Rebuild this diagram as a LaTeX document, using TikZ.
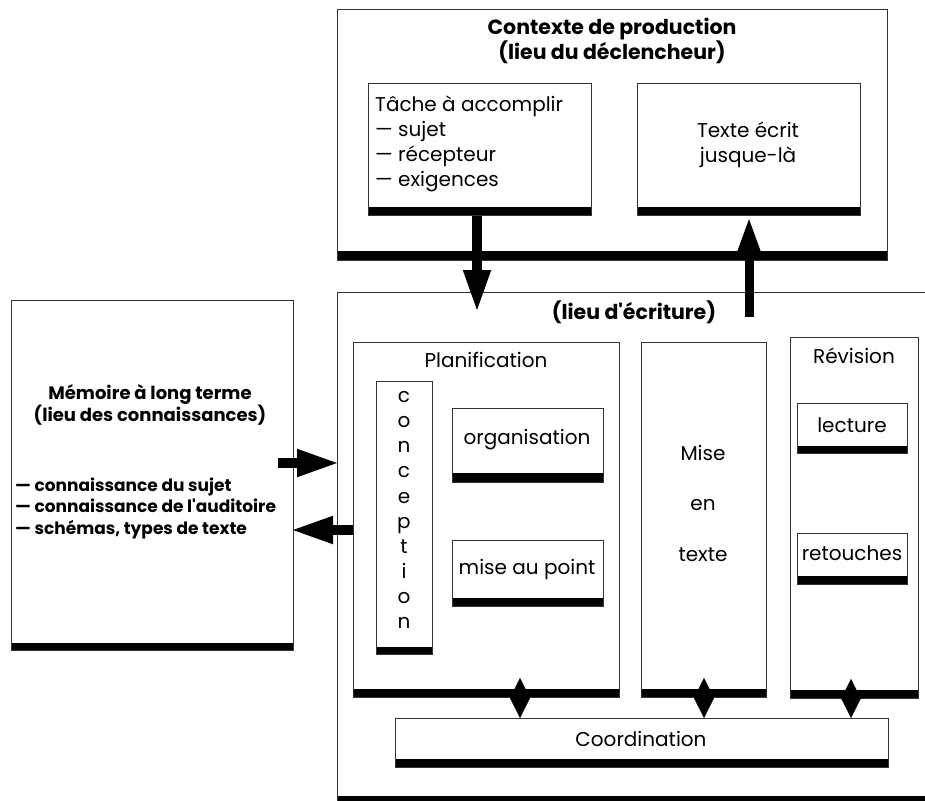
\documentclass[tikz,border=0pt]{standalone}
\usepackage{fontspec}
\newfontfamily\pop{Poppins}
\usetikzlibrary{arrows.meta,calc}
\begin{document}
\begin{tikzpicture}[x=1pt,y=-1pt,
  font=\pop,
  box/.style={draw=black!80, line width=1pt, fill=white, inner sep=0pt, anchor=north west},
  barbox/.style={box, path picture={\fill[black] (path picture bounding box.south west) rectangle ([yshift=#1]path picture bounding box.south east);}},
  barbox/.default=9pt,
  txt/.style={inner sep=0pt, align=center},
  reg/.style={font=\pop\fontsize{20}{25}\selectfont},
  bld/.style={font=\pop\bfseries\fontsize{20.5}{23}\selectfont},
  bldm/.style={font=\pop\bfseries\fontsize{18}{22}\selectfont},
  bigarrow/.style={line width=10pt, -{Triangle[length=43pt,width=25pt]}},
  smallarrow/.style={line width=9pt, -{Triangle[length=35pt,width=20pt]}},
  dbl/.style={line width=0.1pt, {Triangle[length=20pt,width=20pt]}-{Triangle[length=20pt,width=20pt]}}
]
\useasboundingbox (0,0) rectangle (925,800);
\clip (0,0) rectangle (925,800);

% Contexte de production
\node[barbox=10pt, minimum width=550pt, minimum height=251pt] (ctx) at (337,9) {};
\node[txt, bld] (ctxt) at (612,41) {Contexte de production\\(lieu du déclencheur)};
\node[barbox, minimum width=223pt, minimum height=132pt] (tache) at (368,83) {};
\node[txt, reg, align=left, anchor=west] (tachet) at (375,144) {Tâche à accomplir\\— sujet\\— récepteur\\— exigences};
\node[barbox, minimum width=223pt, minimum height=132pt] (texte) at (637,83) {};
\node[txt, reg] (textet) at (748,145) {Texte écrit\\jusque-là};

% Lieu d'ecriture
\node[barbox, minimum width=593pt, minimum height=512pt] (lieu) at (337,292) {};
\node[txt, bld] (lieut) at (634,312) {(lieu d'écriture)};

\node[barbox, minimum width=266pt, minimum height=355pt] (plan) at (353,342) {};
\node[txt, reg] (plant) at (486,360) {Planification};
\node[barbox=8pt, minimum width=56pt, minimum height=273pt] (conc) at (376,381) {};
\node[txt, font=\pop\fontsize{20}{25.1}\selectfont] (conct) at (404,510) {c\\o\\n\\c\\e\\p\\t\\i\\o\\n};
\node[barbox=10pt, minimum width=151pt, minimum height=74pt] (org) at (452,408) {};
\node[txt, reg] (orgt) at (527,440) {organisation};
\node[barbox, minimum width=151pt, minimum height=66pt] (map) at (452,540) {};
\node[txt, reg] (mapt) at (527,569) {mise au point};

\node[barbox, minimum width=125pt, minimum height=355pt] (mise) at (641,342) {};
\node[txt, font=\pop\fontsize{20}{50.5}\selectfont] (miset) at (703,503) {Mise\\en\\texte};

\node[barbox, minimum width=128pt, minimum height=361pt] (rev) at (790,337) {};
\node[txt, reg] (revt) at (854,356) {Révision};
\node[barbox=8pt, minimum width=110pt, minimum height=50pt] (lect) at (797,403) {};
\node[txt, reg] (lectt) at (852,425) {lecture};
\node[barbox, minimum width=110pt, minimum height=51pt] (ret) at (797,533) {};
\node[txt, reg] (rett) at (852,553) {retouches};

\node[barbox, minimum width=493pt, minimum height=49pt] (coord) at (395,718) {};
\node[txt, reg] (coordt) at (641,739) {Coordination};

% Memoire
\node[barbox=8pt, minimum width=282pt, minimum height=350pt] (mem) at (11,300) {};
\node[txt, bldm] (memt) at (150,405) {Mémoire à long terme\\(lieu des connaissances)};
\node[txt, font=\pop\bfseries\fontsize{17}{21.5}\selectfont, align=left, anchor=west] (meml) at (15,508) {— connaissance du sujet\\— connaissance de l'auditoire\\— schémas, types de texte};

% arrows
\coordinate (dtip) at (477,313);
\draw[bigarrow] (tache.south -| dtip) -- (dtip);
\coordinate (utail) at (749,317);
\draw[smallarrow] (utail) -- (texte.south -| utail);
\coordinate (rtail) at (278,463);
\coordinate (rtip) at (340,463);
\draw[bigarrow] (rtail) -- (rtip);
\coordinate (ltip) at (290,530);
\draw[bigarrow] (plan.west |- ltip) -- (ltip);

\coordinate (d1) at (520,0);
\coordinate (d2) at (704,0);
\coordinate (d3) at (851,0);
\draw[dbl] ($(plan.south -| d1)+(0,-20)$) -- (coord.north -| d1);
\draw[dbl] ($(mise.south -| d2)+(0,-20)$) -- (coord.north -| d2);
\draw[dbl] ($(rev.south -| d3)+(0,-20)$) -- (coord.north -| d3);
\end{tikzpicture}
\end{document}
